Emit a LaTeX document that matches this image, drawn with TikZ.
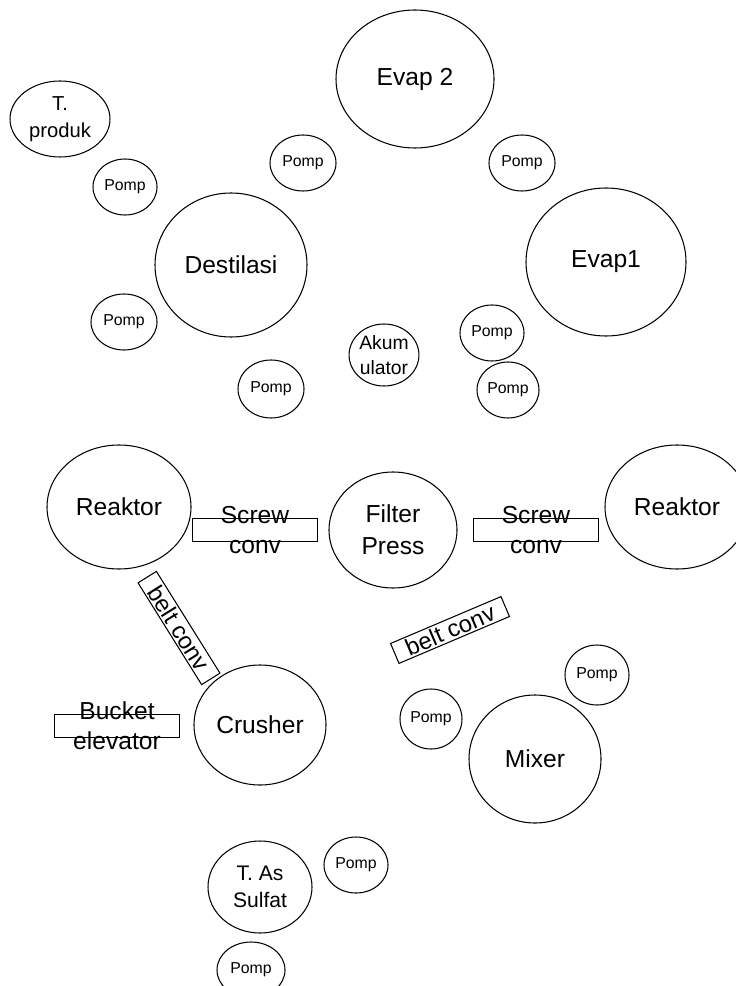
\documentclass[tikz,border=0pt]{standalone}
\usepackage{fontspec}
\setmainfont{Liberation Sans}
\usetikzlibrary{shapes.geometric}

\tikzset{
  sz/.style 2 args={minimum width=#1*0.02cm, minimum height=#2*0.02cm},
  unit/.style={ellipse, draw, line width=0.6pt, inner sep=0pt, align=center,
    font=\fontsize{14}{19}\selectfont},
  pomp/.style={unit, sz={66}{56}, font=\fontsize{9}{11}\selectfont},
  convbox/.style={draw, line width=0.6pt, inner sep=0pt, sz={125}{23}},
  convtext/.style={align=center, font=\fontsize{14}{17}\selectfont},
  beltbox/.style={draw, line width=0.6pt, inner sep=1.2pt, minimum width=2.4cm,
    font=\fontsize{13.5}{16}\selectfont}
}

\begin{document}
\begin{tikzpicture}[x=0.02cm, y=-0.02cm]

\useasboundingbox (0,0) rectangle (736,986);

% bagian atas
\node [unit, sz={100}{76}, font=\fontsize{11.5}{15}\selectfont] (tproduk) at (60,119) {T.\\produk};
\node [unit, sz={158}{138}] (evap2) at (415,79) {Evap 2};
\node [pomp] (pompa) at (303,163) {Pomp};
\node [pomp] (pompb) at (522,163) {Pomp};
\node [pomp, sz={64}{56}] (pompc) at (125,187) {Pomp};
\node [unit, sz={152}{144}] (destilasi) at (231,265) {Destilasi};
\node [unit, sz={160}{148}] (evap1) at (606,262) {Evap1};
\node [pomp] (pompd) at (124,322) {Pomp};
\node [pomp, sz={64}{56}] (pompe) at (492,333) {Pomp};
\node [unit, sz={52}{62}, font=\fontsize{11}{14}\selectfont] (akum) at (384,355) {Akum\\ulator};
\node [pomp, sz={66}{58}] (pompf) at (271,389) {Pomp};
\node [pomp, sz={62}{56}] (pompg) at (508,390) {Pomp};

% baris reaktor
\node [unit, sz={144}{124}] (reaktorl) at (119,507) {Reaktor};
\node [unit, sz={128}{116}, font=\fontsize{14}{18}\selectfont] (filter) at (393,530) {Filter\\Press};
\node [unit, sz={144}{124}] (reaktorr) at (677,507) {Reaktor};
\node [convbox, label={[convtext]center:Screw\\conv}] (screwl) at (255,530) {};
\node [convbox, label={[convtext]center:Screw\\conv}] (screwr) at (536,530) {};

% conveyor miring
\node [beltbox, rotate=-58] (beltl) at (179,628) {belt conv};
\node [beltbox, rotate=23] (beltr) at (450,630) {belt conv};

% bagian bawah
\node [convbox, label={[convtext]center:Bucket\\elevator}] (bucket) at (117,726) {};
\node [unit, sz={132}{120}] (crusher) at (260,725) {Crusher};
\node [pomp, sz={62}{60}] (pomph) at (431,719) {Pomp};
\node [pomp, sz={64}{60}] (pompi) at (597,675) {Pomp};
\node [unit, sz={132}{128}] (mixer) at (535,759) {Mixer};
\node [unit, sz={104}{92}, font=\fontsize{12}{15}\selectfont] (tsulfat) at (260,887) {T. As\\Sulfat};
\node [pomp, sz={64}{56}] (pompj) at (356,865) {Pomp};
\node [pomp, sz={68}{56}] (pompk) at (251,970) {Pomp};

\end{tikzpicture}
\end{document}
